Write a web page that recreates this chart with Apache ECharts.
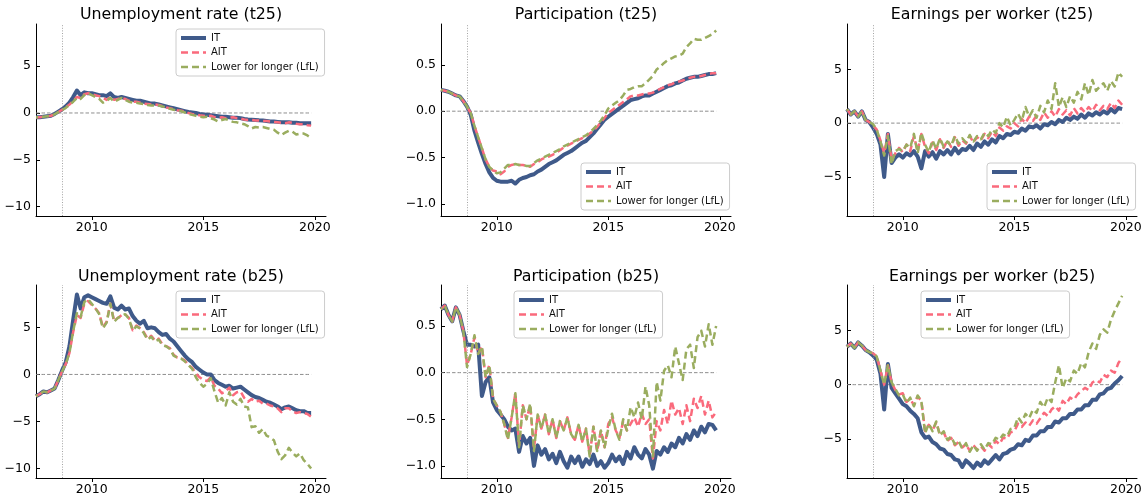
<!DOCTYPE html>
<html>
<head>
<meta charset="utf-8">
<script src="https://cdn.jsdelivr.net/npm/echarts@6/dist/echarts.min.js"></script>
<style>
  html, body { margin: 0; padding: 0; background: #fff; }
  #chart { width: 1146px; height: 499px; }
</style>
</head>
<body>
<div id="chart"></div>
<script>
// Sample dates: one observation every two months, mid-2007 to late 2019
const startYear = 2007.5;
const stepYears = 1 / 6;
const nPoints = 75;
const lehmanDate = 2008.67;           // Sep 2008, marked with a dotted vertical line
const xRange = [2007.5, 2020.5];
const xTicks = [2010, 2015, 2020];
const seriesNames = ['IT', 'AIT', 'Lower for longer (LfL)'];

// Axis limits and tick labels (shared by the t25 / b25 rows of each column)
const unempRange = [-11.0, 9.5];
const unempTicks = [-10, -5, 0, 5];
const partRange = [-1.13, 0.94];
const partTicks = [-1.0, -0.5, 0.0, 0.5];
const earnRange = [-8.62, 9.2];
const earnTicks = [-5, 0, 5];

// ---- Unemployment rate (t25)
const unempT25IT = [
  -0.45,-0.45,-0.4,-0.35,-0.3,-0.1,0.15,0.4,0.7,1.1,1.7,2.4,1.9,2.2,2.1,
  2.1,2.0,1.9,1.9,1.8,2.1,1.7,1.6,1.7,1.6,1.5,1.4,1.3,1.3,1.2,
  1.1,1.0,1.0,0.9,0.8,0.7,0.6,0.5,0.4,0.3,0.2,0.1,0.05,0.0,-0.1,
  -0.15,-0.2,-0.25,-0.3,-0.35,-0.4,-0.4,-0.45,-0.5,-0.5,-0.55,-0.65,-0.7,-0.72,-0.75,
  -0.78,-0.8,-0.85,-0.9,-0.9,-0.95,-1.0,-1.0,-1.0,-1.05,-1.05,-1.1,-1.1,-1.1,-1.1
];
const unempT25AIT = [
  -0.45,-0.45,-0.4,-0.35,-0.3,-0.15,0.1,0.35,0.6,0.9,1.3,1.7,1.6,2.0,2.1,
  2.0,1.9,1.8,1.6,1.4,1.7,1.4,1.5,1.6,1.5,1.3,1.2,1.2,1.1,1.0,
  0.95,0.9,0.9,0.85,0.75,0.6,0.5,0.4,0.3,0.25,0.15,0.0,-0.1,-0.15,-0.25,
  -0.3,-0.35,-0.3,-0.45,-0.5,-0.45,-0.55,-0.5,-0.45,-0.55,-0.6,-0.7,-0.75,-0.75,-0.8,
  -0.8,-0.85,-0.85,-0.9,-0.95,-1.0,-1.05,-1.1,-1.0,-1.05,-1.15,-1.2,-1.2,-1.3,-1.35
];
const unempT25LfL = [
  -0.45,-0.45,-0.4,-0.35,-0.3,-0.15,0.1,0.3,0.55,0.85,1.2,1.6,1.5,1.9,2.1,
  1.9,1.7,1.5,1.1,1.3,1.6,1.2,1.4,1.6,1.4,1.2,1.1,1.1,1.0,0.95,
  0.85,0.8,0.8,0.8,0.7,0.6,0.45,0.35,0.25,0.2,0.05,-0.1,-0.2,-0.3,-0.4,
  -0.45,-0.4,-0.55,-0.7,-0.9,-0.75,-0.65,-0.8,-0.95,-1.0,-1.1,-1.2,-1.4,-1.65,-1.5,
  -1.55,-1.5,-1.6,-1.7,-1.8,-2.1,-2.35,-2.1,-1.9,-2.0,-2.3,-2.2,-2.2,-2.4,-2.65
];

// ---- Participation (t25)
const partT25IT = [
  0.23,0.22,0.21,0.19,0.17,0.16,0.11,0.05,-0.04,-0.21,-0.34,-0.46,-0.57,-0.66,-0.72,
  -0.75,-0.76,-0.76,-0.76,-0.75,-0.78,-0.74,-0.72,-0.71,-0.69,-0.68,-0.65,-0.63,-0.60,-0.57,
  -0.55,-0.53,-0.50,-0.47,-0.45,-0.43,-0.40,-0.37,-0.34,-0.32,-0.28,-0.24,-0.19,-0.14,-0.09,
  -0.06,-0.03,0.0,0.03,0.06,0.09,0.12,0.13,0.14,0.16,0.17,0.17,0.19,0.21,0.23,
  0.25,0.27,0.28,0.30,0.31,0.33,0.35,0.36,0.37,0.37,0.38,0.39,0.40,0.40,0.41
];
const partT25AIT = [
  0.23,0.22,0.21,0.19,0.17,0.16,0.11,0.05,-0.02,-0.16,-0.28,-0.40,-0.52,-0.60,-0.64,
  -0.65,-0.68,-0.65,-0.60,-0.58,-0.57,-0.58,-0.58,-0.59,-0.60,-0.57,-0.55,-0.52,-0.50,-0.49,
  -0.47,-0.45,-0.42,-0.39,-0.37,-0.35,-0.33,-0.31,-0.29,-0.27,-0.24,-0.21,-0.17,-0.12,-0.07,
  -0.02,0.01,0.04,0.07,0.10,0.13,0.16,0.17,0.17,0.18,0.19,0.19,0.20,0.22,0.24,
  0.26,0.28,0.29,0.31,0.32,0.33,0.35,0.36,0.37,0.37,0.38,0.39,0.40,0.41,0.41
];
const partT25LfL = [
  0.23,0.22,0.21,0.19,0.17,0.16,0.11,0.05,-0.02,-0.16,-0.28,-0.40,-0.52,-0.60,-0.64,
  -0.67,-0.66,-0.62,-0.58,-0.58,-0.57,-0.58,-0.58,-0.59,-0.59,-0.56,-0.53,-0.51,-0.49,-0.47,
  -0.45,-0.43,-0.41,-0.38,-0.36,-0.34,-0.32,-0.30,-0.28,-0.26,-0.23,-0.19,-0.15,-0.10,-0.04,
  0.03,0.06,0.09,0.12,0.17,0.23,0.24,0.26,0.27,0.27,0.30,0.34,0.38,0.45,0.48,
  0.52,0.55,0.57,0.59,0.60,0.62,0.69,0.73,0.78,0.77,0.77,0.79,0.81,0.83,0.87
];

// ---- Earnings per worker (t25)
const earnT25IT = [
  1.3,0.8,1.1,0.6,1.1,0.3,0.1,-0.4,-1.0,-2.0,-5.0,-1.0,-3.7,-3.2,-2.9,
  -3.2,-2.8,-3.0,-2.6,-3.1,-4.2,-2.6,-3.1,-2.7,-3.3,-2.6,-2.9,-2.5,-2.9,-2.3,
  -2.8,-2.4,-2.5,-2.1,-2.5,-1.9,-2.2,-1.7,-2.0,-1.5,-1.8,-1.2,-1.4,-1.0,-1.1,
  -0.8,-0.9,-0.5,-0.7,-0.3,-0.4,-0.2,-0.5,-0.1,-0.2,0.1,-0.1,0.3,0.1,0.5,
  0.3,0.6,0.4,0.8,0.5,0.9,0.7,1.0,0.8,1.1,0.9,1.3,1.0,1.4,1.3
];
const earnT25AIT = [
  1.3,0.8,1.1,0.6,1.1,0.3,0.1,-0.2,-0.6,-1.6,-2.8,-1.0,-3.4,-2.8,-2.3,
  -2.7,-2.0,-2.6,-1.2,-2.6,-1.0,-2.2,-2.8,-1.8,-2.5,-1.5,-2.3,-1.6,-2.2,-1.3,
  -2.1,-1.6,-1.9,-1.2,-1.8,-1.3,-1.6,-1.0,-1.4,-0.8,-1.2,-0.4,-0.7,-0.3,-0.5,
  0.0,-0.3,0.4,0.0,0.6,0.2,0.7,0.3,1.0,0.5,1.1,0.6,1.3,0.8,1.2,
  0.7,1.4,0.9,1.4,1.0,1.5,1.1,1.7,1.2,1.6,1.3,1.9,1.4,2.1,1.7
];
const earnT25LfL = [
  1.3,0.8,1.1,0.6,1.1,0.3,0.1,-0.1,-0.6,-1.7,-3.0,-1.2,-3.8,-2.6,-2.4,
  -2.6,-2.0,-2.3,-1.0,-2.8,-0.9,-2.0,-2.7,-1.6,-2.4,-1.4,-2.2,-1.7,-2.1,-1.2,
  -1.9,-1.4,-1.8,-1.1,-1.7,-1.2,-1.5,-0.9,-1.2,-0.6,-0.9,0.0,-0.4,0.6,-0.2,
  0.3,0.9,0.2,1.5,0.6,1.2,0.5,1.6,1.0,2.1,1.3,3.7,1.5,2.4,1.5,
  2.5,1.9,2.9,2.2,3.7,2.6,4.0,3.0,3.4,3.7,3.0,3.9,3.4,4.7,4.3
];

// ---- Unemployment rate (b25)
const unempB25IT = [
  -2.3,-2.1,-1.8,-1.9,-1.7,-1.5,-0.6,0.4,1.3,3.0,5.8,8.5,7.0,8.2,8.4,
  8.2,8.0,7.8,7.6,7.5,8.3,7.1,6.9,7.3,6.9,7.0,6.2,5.7,5.4,5.7,
  4.9,5.0,4.9,4.5,4.2,4.3,3.8,3.5,3.0,2.5,2.0,1.6,1.3,0.8,0.5,
  0.2,0.0,0.0,-0.6,-0.9,-1.1,-1.3,-1.2,-1.5,-1.4,-1.3,-1.6,-1.9,-2.2,-2.4,
  -2.5,-2.7,-2.9,-3.0,-3.2,-3.4,-3.7,-3.5,-3.4,-3.6,-3.8,-3.9,-3.9,-4.1,-4.1
];
const unempB25AIT = [
  -2.3,-2.1,-1.8,-1.9,-1.7,-1.5,-0.6,0.3,1.1,2.3,4.5,6.3,6.0,7.5,7.8,
  7.4,7.0,6.5,5.0,5.6,7.5,5.7,6.0,6.3,6.4,6.0,4.7,5.2,4.9,4.5,
  3.8,4.1,3.6,3.8,3.2,3.0,2.8,2.1,1.8,1.7,1.5,1.0,0.7,0.1,-0.3,
  -0.6,-0.7,-0.3,-1.2,-1.5,-2.0,-1.8,-1.4,-2.2,-1.9,-1.8,-2.5,-2.9,-2.6,-2.9,
  -2.8,-3.1,-3.1,-3.3,-3.4,-3.6,-4.0,-3.6,-3.6,-3.9,-4.1,-4.0,-4.1,-4.2,-4.5
];
const unempB25LfL = [
  -2.3,-2.1,-1.8,-1.9,-1.7,-1.5,-0.6,0.3,1.1,2.3,4.6,6.5,6.1,7.7,8.0,
  7.5,7.0,6.4,4.9,5.5,7.5,5.6,6.0,6.2,6.4,5.9,4.7,5.1,4.9,4.4,
  3.7,4.0,3.5,3.7,3.1,3.0,2.7,2.0,1.8,1.7,1.4,1.0,0.6,-0.3,-0.9,
  -1.3,-1.0,-0.4,-1.8,-3.0,-2.5,-3.3,-1.9,-2.9,-3.2,-2.6,-3.4,-3.5,-5.6,-5.5,
  -6.2,-5.8,-6.5,-6.7,-7.0,-8.2,-9.0,-8.6,-7.8,-8.3,-8.7,-8.4,-9.1,-9.5,-10.0
];

// ---- Participation (b25)
const partB25IT = [
  0.68,0.72,0.62,0.55,0.70,0.62,0.45,0.30,0.30,0.28,0.30,-0.25,-0.10,-0.05,-0.32,
  -0.40,-0.45,-0.50,-0.58,-0.62,-0.60,-0.85,-0.68,-0.76,-0.70,-1.00,-0.78,-0.88,-0.82,-0.93,
  -0.87,-0.97,-0.85,-0.95,-1.02,-0.90,-0.97,-0.90,-1.01,-0.93,-0.98,-0.88,-1.00,-0.95,-1.02,
  -0.97,-0.88,-0.95,-0.90,-0.98,-0.85,-0.92,-0.80,-0.88,-0.92,-0.82,-0.88,-1.03,-0.84,-0.88,
  -0.80,-0.85,-0.76,-0.80,-0.70,-0.76,-0.66,-0.72,-0.62,-0.68,-0.58,-0.64,-0.55,-0.56,-0.62
];
const partB25AIT = [
  0.68,0.72,0.62,0.55,0.70,0.62,0.45,0.08,0.20,0.38,0.20,0.28,-0.05,0.08,-0.28,
  -0.35,-0.42,-0.55,-0.70,-0.48,-0.22,-0.78,-0.35,-0.50,-0.35,-0.82,-0.45,-0.60,-0.45,-0.66,
  -0.50,-0.70,-0.52,-0.62,-0.48,-0.66,-0.72,-0.56,-0.74,-0.60,-0.88,-0.58,-0.84,-0.62,-0.80,
  -0.55,-0.48,-0.62,-0.70,-0.52,-0.62,-0.55,-0.48,-0.58,-0.44,-0.55,-0.50,-0.92,-0.52,-0.62,
  -0.40,-0.55,-0.30,-0.45,-0.38,-0.55,-0.35,-0.52,-0.28,-0.38,-0.25,-0.45,-0.30,-0.48,-0.42
];
const partB25LfL = [
  0.68,0.72,0.62,0.55,0.70,0.62,0.45,0.06,0.20,0.40,0.20,0.28,-0.05,0.08,-0.28,
  -0.35,-0.42,-0.55,-0.72,-0.48,-0.22,-0.80,-0.35,-0.50,-0.33,-0.84,-0.45,-0.60,-0.45,-0.66,
  -0.50,-0.70,-0.52,-0.62,-0.48,-0.66,-0.72,-0.56,-0.74,-0.60,-0.90,-0.58,-0.84,-0.62,-0.80,
  -0.60,-0.44,-0.62,-0.72,-0.50,-0.62,-0.37,-0.48,-0.32,-0.50,-0.15,-0.35,-0.90,-0.10,-0.30,
  0.02,0.08,-0.05,0.28,0.10,-0.08,0.25,0.30,0.05,0.38,0.45,0.28,0.52,0.30,0.50
];

// ---- Earnings per worker (b25)
const earnB25IT = [
  3.5,3.8,3.4,3.9,3.6,3.2,3.0,2.7,2.3,1.0,-2.3,1.9,-0.3,-0.8,-1.3,
  -1.8,-2.0,-2.4,-2.7,-3.1,-4.4,-4.9,-4.8,-5.3,-5.5,-5.9,-6.0,-6.4,-6.5,-6.9,
  -7.0,-7.6,-7.0,-7.3,-7.7,-7.2,-7.5,-7.0,-7.3,-6.9,-6.5,-6.9,-6.4,-6.3,-6.0,
  -5.9,-5.5,-5.6,-5.1,-5.2,-4.7,-4.7,-4.3,-4.3,-3.9,-3.9,-3.4,-3.5,-3.1,-3.1,
  -2.7,-2.7,-2.3,-2.3,-1.9,-1.9,-1.4,-1.4,-0.9,-0.8,-0.4,-0.3,0.1,0.4,0.8
];
const earnB25AIT = [
  3.5,3.8,3.4,3.9,3.6,3.2,3.0,2.9,2.6,1.3,0.0,1.8,0.2,-0.5,-0.9,
  -0.8,-1.6,-1.3,-1.9,-1.1,-1.5,-4.3,-3.7,-4.2,-3.5,-4.6,-4.4,-5.2,-4.9,-5.6,
  -5.3,-5.8,-5.5,-6.1,-5.6,-6.0,-5.7,-6.1,-5.5,-5.8,-5.2,-5.5,-4.9,-5.0,-4.4,
  -4.3,-3.6,-3.9,-3.5,-3.8,-3.3,-3.6,-3.1,-2.6,-2.9,-2.3,-2.0,-2.4,-1.5,-1.8,
  -1.2,-1.4,-0.9,-0.6,-0.3,-0.5,0.2,0.4,0.2,0.9,0.7,1.3,1.1,2.0,2.5
];
const earnB25LfL = [
  3.5,3.8,3.4,3.9,3.6,3.2,3.0,2.9,2.6,1.3,0.0,1.8,0.2,-0.4,-1.0,
  -0.9,-1.7,-1.2,-2.0,-1.0,-1.5,-4.5,-3.6,-4.3,-3.4,-4.7,-4.3,-5.1,-4.8,-5.5,
  -5.2,-5.9,-5.4,-6.2,-5.6,-6.1,-5.5,-6.0,-5.4,-5.5,-4.9,-5.1,-4.6,-4.8,-4.1,
  -4.0,-3.0,-3.5,-2.7,-3.1,-2.3,-2.6,-1.6,-2.1,-1.2,-1.6,0.2,1.8,-0.3,0.6,
  0.3,1.3,1.0,2.0,1.6,3.0,3.8,3.3,4.6,5.1,4.8,6.0,6.8,7.5,8.2
];

// ---------------------------------------------------------------------------
const xs = Array.from({ length: nPoints }, (_, i) => +(startYear + i * stepYears).toFixed(4));

const colors = ['#3f5a8a', '#fa6a7c', '#9aad5f'];
const fontFamily = '"DejaVu Sans", sans-serif';

const panels = [
  { title: 'Unemployment rate (t25)', ys: [unempT25IT, unempT25AIT, unempT25LfL], range: unempRange, ticks: unempTicks, decimals: 0 },
  { title: 'Participation (t25)',     ys: [partT25IT, partT25AIT, partT25LfL],    range: partRange,  ticks: partTicks,  decimals: 1 },
  { title: 'Earnings per worker (t25)', ys: [earnT25IT, earnT25AIT, earnT25LfL],  range: earnRange,  ticks: earnTicks,  decimals: 0 },
  { title: 'Unemployment rate (b25)', ys: [unempB25IT, unempB25AIT, unempB25LfL], range: unempRange, ticks: unempTicks, decimals: 0 },
  { title: 'Participation (b25)',     ys: [partB25IT, partB25AIT, partB25LfL],    range: partRange,  ticks: partTicks,  decimals: 1 },
  { title: 'Earnings per worker (b25)', ys: [earnB25IT, earnB25AIT, earnB25LfL],  range: earnRange,  ticks: earnTicks,  decimals: 0 }
];

// Page layout (pixels)
const gridLefts = [36, 441, 847];
const gridTops = [24, 285];
const gridHeights = [192, 193];
const gridWidth = 290;
const titleCentres = [15, 277];
const legendBoxes = [
  { left: 176, top: 29 }, { left: 581, top: 163 }, { left: 987, top: 163 },
  { left: 176, top: 291 }, { left: 514, top: 291 }, { left: 921, top: 291 }
];

function tickText(v, decimals) {
  const s = Math.abs(v).toFixed(decimals);
  return (v < -1e-9 ? '\u2212' : '') + s;
}

const option = {
  animation: false,
  backgroundColor: '#fff',
  textStyle: { fontFamily },
  grid: [], xAxis: [], yAxis: [], series: [], legend: [], graphic: []
};

panels.forEach((p, k) => {
  const col = k % 3, row = Math.floor(k / 3);
  const left = gridLefts[col], top = gridTops[row], height = gridHeights[row];

  option.grid.push({ left, top, width: gridWidth, height });

  option.xAxis.push({
    type: 'value', gridIndex: k, min: xRange[0], max: xRange[1],
    axisLine: { onZero: false, lineStyle: { color: '#000', width: 1 } },
    axisTick: { show: true, customValues: xTicks, length: 4, lineStyle: { color: '#000', width: 1 } },
    axisLabel: { customValues: xTicks, formatter: v => String(Math.round(v)), color: '#000', fontSize: 12.5, margin: 5, fontFamily },
    splitLine: { show: false }
  });

  option.yAxis.push({
    type: 'value', gridIndex: k, min: p.range[0], max: p.range[1],
    axisLine: { show: true, onZero: false, lineStyle: { color: '#000', width: 1 } },
    axisTick: { show: true, inside: true, customValues: p.ticks, length: 4, lineStyle: { color: '#000', width: 1 } },
    axisLabel: { customValues: p.ticks, formatter: v => tickText(v, p.decimals), color: '#000', fontSize: 12.5, margin: 5, fontFamily },
    splitLine: { show: false }
  });

  // zero reference line over the sample period, plus the Sep-2008 marker
  option.series.push({
    type: 'line', xAxisIndex: k, yAxisIndex: k, silent: true, symbol: 'none', z: 1,
    data: xs.map(x => [x, 0]),
    lineStyle: { color: '#808080', width: 0.9, type: [3.5, 2] },
    markLine: {
      silent: true, symbol: ['none', 'none'], label: { show: false },
      lineStyle: { color: '#9a9a9a', width: 0.9, type: [1, 1.6] },
      data: [{ xAxis: lehmanDate }]
    }
  });

  p.ys.forEach((ys, j) => {
    option.series.push({
      type: 'line', name: seriesNames[j], xAxisIndex: k, yAxisIndex: k,
      data: ys.map((v, i) => [xs[i], v]),
      symbol: 'none', silent: true, z: 3 + j,
      itemStyle: { color: colors[j] },
      lineStyle: j === 0
        ? { color: colors[j], width: 4, join: 'round' }
        : { color: colors[j], width: 2.5, type: [7, 4], dashOffset: j === 2 ? 5 : 0, join: 'round' }
    });
  });

  option.legend.push({
    data: seriesNames.map((n, j) => ({
      name: n,
      lineStyle: { width: j === 0 ? 4 : 2.5, dashOffset: 0 },
      itemStyle: { opacity: 0 }
    })),
    left: legendBoxes[k].left, top: legendBoxes[k].top,
    orient: 'vertical', selectedMode: false,
    itemWidth: 25, itemHeight: 10, itemGap: 4.5,
    padding: [4, 6, 4, 3],
    itemStyle: { opacity: 0 },
    backgroundColor: 'rgba(255,255,255,0.85)',
    borderColor: '#cccccc', borderWidth: 1, borderRadius: 3,
    textStyle: { fontSize: 10, color: '#111', fontFamily }
  });

  option.graphic.push({
    type: 'text', x: left + gridWidth / 2, y: titleCentres[row], silent: true,
    style: { text: p.title, fill: '#000', font: '15.8px ' + fontFamily, align: 'center', verticalAlign: 'middle' }
  });
});

const chart = echarts.init(document.getElementById('chart'), null, { renderer: 'canvas' });
chart.setOption(option);
</script>
</body>
</html>
